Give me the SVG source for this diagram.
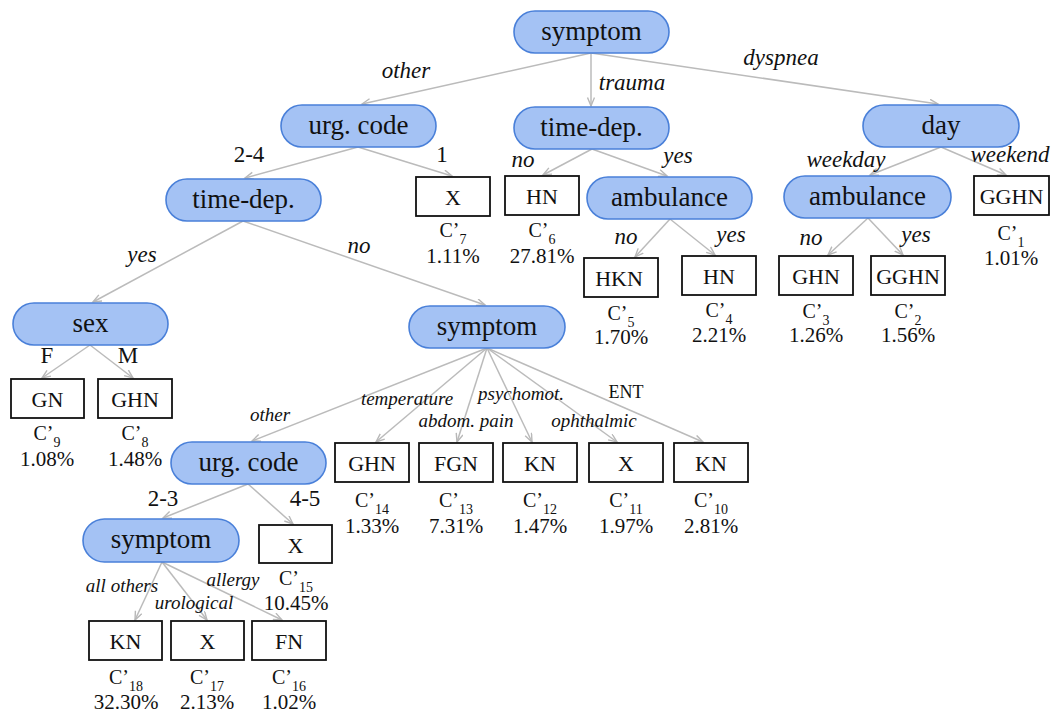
<svg xmlns="http://www.w3.org/2000/svg" width="1054" height="716" viewBox="0 0 1054 716">
  <defs>
    <marker id="arr" markerUnits="userSpaceOnUse" markerWidth="12" markerHeight="10" refX="9" refY="4" orient="auto">
      <path d="M0.5,0.5 L9,4 L0.5,7.5" fill="none" stroke="#b8b8b8" stroke-width="1.4" stroke-linejoin="miter"/>
    </marker>
    <style>
      text { font-family: "Liberation Serif", "Times New Roman", "DejaVu Serif", serif; }
      .split rect { fill: #a4c2f4; stroke: #4a80d9; stroke-width: 1.6; }
      .split text { font-size: 27px; text-anchor: middle; fill: #111; }
      .leaf rect { fill: #fff; stroke: #111; stroke-width: 1.8; }
      .leaf text { text-anchor: middle; fill: #111; }
      .leaf .cls { font-size: 22px; }
      .leaf .cid { font-size: 20px; }
      .leaf .sub { font-size: 14px; }
      .leaf .pct { font-size: 21px; }
      #edges line { stroke: #bbbbbb; stroke-width: 1.5; marker-end: url(#arr); }
      #edges text { text-anchor: middle; fill: #111; }
      #edges .lab { font-style: italic; font-size: 23px; }
      #edges .sm { font-style: italic; font-size: 19px; }
      #edges .num { font-size: 23px; }
      #edges .up { font-size: 18px; }
    </style>
  </defs>

  <rect width="1054" height="716" fill="#fff"/>

  <!-- connectors and their branch labels -->
  <g id="edges">
    <line x1="591" y1="53" x2="362" y2="104"/>
    <line x1="591" y1="53" x2="591" y2="106"/>
    <line x1="591" y1="53" x2="938" y2="104"/>
    <line x1="358" y1="147" x2="245" y2="178"/>
    <line x1="358" y1="147" x2="452" y2="176"/>
    <line x1="243" y1="221" x2="93" y2="302"/>
    <line x1="243" y1="221" x2="485" y2="305"/>
    <line x1="592" y1="149" x2="543" y2="175"/>
    <line x1="592" y1="149" x2="667" y2="176"/>
    <line x1="670" y1="219" x2="635" y2="257"/>
    <line x1="670" y1="219" x2="715" y2="255"/>
    <line x1="941" y1="147" x2="870" y2="175"/>
    <line x1="941" y1="147" x2="1006" y2="175"/>
    <line x1="868" y1="218" x2="828" y2="255"/>
    <line x1="868" y1="218" x2="903" y2="255"/>
    <line x1="90" y1="345" x2="42" y2="378"/>
    <line x1="90" y1="345" x2="133" y2="378"/>
    <line x1="487" y1="348" x2="252" y2="441"/>
    <line x1="487" y1="348" x2="376" y2="442"/>
    <line x1="487" y1="348" x2="457" y2="442"/>
    <line x1="487" y1="348" x2="532" y2="442"/>
    <line x1="487" y1="348" x2="617" y2="442"/>
    <line x1="487" y1="348" x2="703" y2="442"/>
    <line x1="248" y1="484" x2="163" y2="518"/>
    <line x1="248" y1="484" x2="293" y2="524"/>
    <line x1="162" y1="562" x2="135" y2="620"/>
    <line x1="162" y1="562" x2="207" y2="620"/>
    <line x1="162" y1="562" x2="282" y2="620"/>

    <text class="lab" x="406" y="78">other</text>
    <text class="lab" x="632" y="90">trauma</text>
    <text class="lab" x="781" y="65">dyspnea</text>
    <text class="num" x="249" y="162">2-4</text>
    <text class="num" x="442" y="162">1</text>
    <text class="lab" x="142" y="262">yes</text>
    <text class="lab" x="359" y="253">no</text>
    <text class="lab" x="523" y="167">no</text>
    <text class="lab" x="678" y="163">yes</text>
    <text class="lab" x="626" y="244">no</text>
    <text class="lab" x="731" y="242">yes</text>
    <text class="lab" x="846" y="167">weekday</text>
    <text class="lab" x="1010" y="162">weekend</text>
    <text class="lab" x="811" y="245">no</text>
    <text class="lab" x="916" y="242">yes</text>
    <text class="num" x="47" y="363">F</text>
    <text class="num" x="128" y="363">M</text>
    <text class="sm" x="270" y="421">other</text>
    <text class="sm" x="407" y="405">temperature</text>
    <text class="sm" x="521" y="400">psychomot.</text>
    <text class="up" x="626" y="398">ENT</text>
    <text class="sm" x="466" y="427">abdom. pain</text>
    <text class="sm" x="594" y="427">ophthalmic</text>
    <text class="num" x="163" y="506">2-3</text>
    <text class="num" x="305" y="506">4-5</text>
    <text class="sm" x="122" y="592">all others</text>
    <text class="sm" x="233" y="586">allergy</text>
    <text class="sm" x="194" y="609">urological</text>
  </g>

  <!-- split nodes -->
  <g id="n-symptom-root" class="split"><rect x="514" y="11" width="155" height="42" rx="21"/><text x="591.5" y="40">symptom</text></g>
  <g id="n-urg-code-1" class="split"><rect x="281" y="105" width="155" height="42" rx="21"/><text x="358.5" y="134">urg. code</text></g>
  <g id="n-time-dep-1" class="split"><rect x="166" y="179" width="155" height="42" rx="21"/><text x="243.5" y="208">time-dep.</text></g>
  <g id="n-time-dep-2" class="split"><rect x="514" y="107" width="155" height="42" rx="21"/><text x="591.5" y="136">time-dep.</text></g>
  <g id="n-ambulance-1" class="split"><rect x="587" y="177" width="165" height="42" rx="21"/><text x="669.5" y="206">ambulance</text></g>
  <g id="n-day" class="split"><rect x="863" y="105" width="156" height="42" rx="21"/><text x="941" y="134">day</text></g>
  <g id="n-ambulance-2" class="split"><rect x="784" y="176" width="167" height="42" rx="21"/><text x="867.5" y="205">ambulance</text></g>
  <g id="n-sex" class="split"><rect x="13" y="303" width="155" height="42" rx="21"/><text x="90.5" y="332">sex</text></g>
  <g id="n-symptom-2" class="split"><rect x="409" y="306" width="156" height="42" rx="21"/><text x="487" y="335">symptom</text></g>
  <g id="n-urg-code-2" class="split"><rect x="171" y="442" width="155" height="42" rx="21"/><text x="248.5" y="471">urg. code</text></g>
  <g id="n-symptom-3" class="split"><rect x="83" y="519" width="156" height="43" rx="21.5"/><text x="161" y="548">symptom</text></g>

  <!-- leaf nodes -->
  <g id="c1" class="leaf"><rect x="974" y="176" width="75" height="39"/><text class="cls" x="1011.5" y="204">GGHN</text><text class="cid" x="1011" y="240">C’<tspan class="sub" dy="7">1</tspan></text><text class="pct" x="1011" y="265">1.01%</text></g>
  <g id="c2" class="leaf"><rect x="871" y="256" width="74" height="39"/><text class="cls" x="908" y="284">GGHN</text><text class="cid" x="908" y="318">C’<tspan class="sub" dy="7">2</tspan></text><text class="pct" x="908" y="342">1.56%</text></g>
  <g id="c3" class="leaf"><rect x="779" y="256" width="74" height="39"/><text class="cls" x="816" y="284">GHN</text><text class="cid" x="816" y="318">C’<tspan class="sub" dy="7">3</tspan></text><text class="pct" x="816" y="342">1.26%</text></g>
  <g id="c4" class="leaf"><rect x="682" y="256" width="74" height="39"/><text class="cls" x="719" y="284">HN</text><text class="cid" x="719" y="317">C’<tspan class="sub" dy="7">4</tspan></text><text class="pct" x="719" y="342">2.21%</text></g>
  <g id="c5" class="leaf"><rect x="584" y="258" width="74" height="39"/><text class="cls" x="619" y="286">HKN</text><text class="cid" x="621" y="320">C’<tspan class="sub" dy="7">5</tspan></text><text class="pct" x="621" y="344">1.70%</text></g>
  <g id="c6" class="leaf"><rect x="505" y="176" width="74" height="39"/><text class="cls" x="542" y="204">HN</text><text class="cid" x="542" y="237">C’<tspan class="sub" dy="7">6</tspan></text><text class="pct" x="542" y="263">27.81%</text></g>
  <g id="c7" class="leaf"><rect x="416" y="177" width="74" height="39"/><text class="cls" x="453" y="205">X</text><text class="cid" x="453" y="237">C’<tspan class="sub" dy="7">7</tspan></text><text class="pct" x="453" y="263">1.11%</text></g>
  <g id="c8" class="leaf"><rect x="98" y="379" width="74" height="39"/><text class="cls" x="135" y="407">GHN</text><text class="cid" x="135" y="440">C’<tspan class="sub" dy="7">8</tspan></text><text class="pct" x="135" y="466">1.48%</text></g>
  <g id="c9" class="leaf"><rect x="11" y="379" width="73" height="39"/><text class="cls" x="47.5" y="407">GN</text><text class="cid" x="47" y="440">C’<tspan class="sub" dy="7">9</tspan></text><text class="pct" x="47" y="466">1.08%</text></g>
  <g id="c10" class="leaf"><rect x="674" y="443" width="74" height="39"/><text class="cls" x="711" y="471">KN</text><text class="cid" x="711" y="507">C’<tspan class="sub" dy="7">10</tspan></text><text class="pct" x="711" y="533">2.81%</text></g>
  <g id="c11" class="leaf"><rect x="589" y="443" width="74" height="39"/><text class="cls" x="626" y="471">X</text><text class="cid" x="626" y="507">C’<tspan class="sub" dy="7">11</tspan></text><text class="pct" x="626" y="533">1.97%</text></g>
  <g id="c12" class="leaf"><rect x="503" y="443" width="74" height="39"/><text class="cls" x="540" y="471">KN</text><text class="cid" x="540" y="507">C’<tspan class="sub" dy="7">12</tspan></text><text class="pct" x="540" y="533">1.47%</text></g>
  <g id="c13" class="leaf"><rect x="419" y="443" width="74" height="39"/><text class="cls" x="456" y="471">FGN</text><text class="cid" x="456" y="507">C’<tspan class="sub" dy="7">13</tspan></text><text class="pct" x="456" y="533">7.31%</text></g>
  <g id="c14" class="leaf"><rect x="335" y="443" width="74" height="39"/><text class="cls" x="372" y="471">GHN</text><text class="cid" x="372" y="507">C’<tspan class="sub" dy="7">14</tspan></text><text class="pct" x="372" y="533">1.33%</text></g>
  <g id="c15" class="leaf"><rect x="259" y="525" width="73" height="38"/><text class="cls" x="295.5" y="553">X</text><text class="cid" x="296" y="585">C’<tspan class="sub" dy="7">15</tspan></text><text class="pct" x="296" y="610">10.45%</text></g>
  <g id="c16" class="leaf"><rect x="252" y="621" width="74" height="39"/><text class="cls" x="289" y="649">FN</text><text class="cid" x="289" y="684">C’<tspan class="sub" dy="7">16</tspan></text><text class="pct" x="289" y="709">1.02%</text></g>
  <g id="c17" class="leaf"><rect x="171" y="621" width="73" height="39"/><text class="cls" x="207.5" y="649">X</text><text class="cid" x="207" y="684">C’<tspan class="sub" dy="7">17</tspan></text><text class="pct" x="207" y="709">2.13%</text></g>
  <g id="c18" class="leaf"><rect x="89" y="621" width="73" height="39"/><text class="cls" x="125.5" y="649">KN</text><text class="cid" x="126" y="684">C’<tspan class="sub" dy="7">18</tspan></text><text class="pct" x="126" y="709">32.30%</text></g>
</svg>
